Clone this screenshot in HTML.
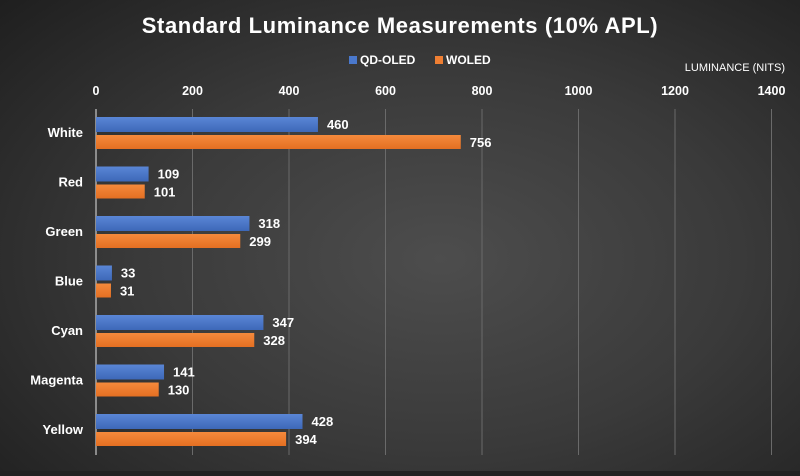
<!DOCTYPE html>
<html><head><meta charset="utf-8"><style>
body{margin:0;width:800px;height:471px;overflow:hidden;background:#222;}
#c{width:800px;height:471px;background:radial-gradient(ellipse 75% 80% at 55% 55%,#4d4d4d 0%,#3a3a3a 50%,#1f1f1f 100%);position:relative;font-family:"Liberation Sans",sans-serif;}
svg text{font-family:"Liberation Sans",sans-serif;fill:#fff;}
</style></head><body>
<div id="c">
<svg id="s" width="800" height="471"></svg>
</div>
<script>
const categories=["White","Red","Green","Blue","Cyan","Magenta","Yellow"];
const qdoled=[460,109,318,33,347,141,428];
const woled=[756,101,299,31,328,130,394];
const ticks=[0,200,400,600,800,1000,1200,1400];
const NS="http://www.w3.org/2000/svg";
const s=document.getElementById("s");
const x0=96,scale=0.4825,top0=117,rowH=49.5,barH=15;
const X=v=>x0+v*scale;
function mk(t,a,p){const e=document.createElementNS(NS,t);for(const k in a)e.setAttribute(k,a[k]);(p||s).appendChild(e);return e;}
const defs=mk("defs",{});
defs.innerHTML='<linearGradient id="gb" x1="0" y1="0" x2="0" y2="1"><stop offset="0" stop-color="#5a86d6"/><stop offset="1" stop-color="#3d68b8"/></linearGradient><linearGradient id="go" x1="0" y1="0" x2="0" y2="1"><stop offset="0" stop-color="#f58a3c"/><stop offset="1" stop-color="#e46f22"/></linearGradient>';
let t=mk("text",{x:400,y:33,"text-anchor":"middle","font-size":"22","font-weight":"bold","letter-spacing":"0.6"});t.textContent="Standard Luminance Measurements (10% APL)";


let r=mk("rect",{x:349,y:56,width:8,height:8,fill:"#4a78cc"});


t=mk("text",{x:360,y:64,"font-size":"12","font-weight":"bold",fill:"#fff"});t.textContent="QD-OLED";


r=mk("rect",{x:435,y:56,width:8,height:8,fill:"#ef7f33"});


t=mk("text",{x:446,y:64,"font-size":"12","font-weight":"bold"});t.textContent="WOLED";


t=mk("text",{x:785,y:71,"text-anchor":"end","font-size":"11"});t.textContent="LUMINANCE (NITS)";


ticks.forEach(v=>{
 const l=mk("line",{x1:X(v),x2:X(v),y1:109,y2:455,stroke:v===0?"#aaa":"#6a6a6a","stroke-width":v===0?1.5:1});
 
 
 const tt=mk("text",{x:X(v),y:95,"text-anchor":"middle","font-size":"12.5","font-weight":"bold"});tt.textContent=v;
 
 
});
categories.forEach((c,i)=>{
 const y=top0+i*rowH;
 const cl=mk("text",{x:83,y:y+20,"text-anchor":"end","font-size":"13","font-weight":"bold"});cl.textContent=c;
 
 
 const b1=mk("rect",{x:x0,y:y,width:qdoled[i]*scale,height:barH,fill:"url(#gb)"});
 
 
 const v1=mk("text",{x:X(qdoled[i])+9,y:y+12,"font-size":"13","font-weight":"bold"});v1.textContent=qdoled[i];
 
 
 const b2=mk("rect",{x:x0,y:y+18,width:woled[i]*scale,height:barH-1,fill:"url(#go)"});
 
 
 const v2=mk("text",{x:X(woled[i])+9,y:y+30,"font-size":"13","font-weight":"bold"});v2.textContent=woled[i];
 
 
});
</script>
</body></html>
